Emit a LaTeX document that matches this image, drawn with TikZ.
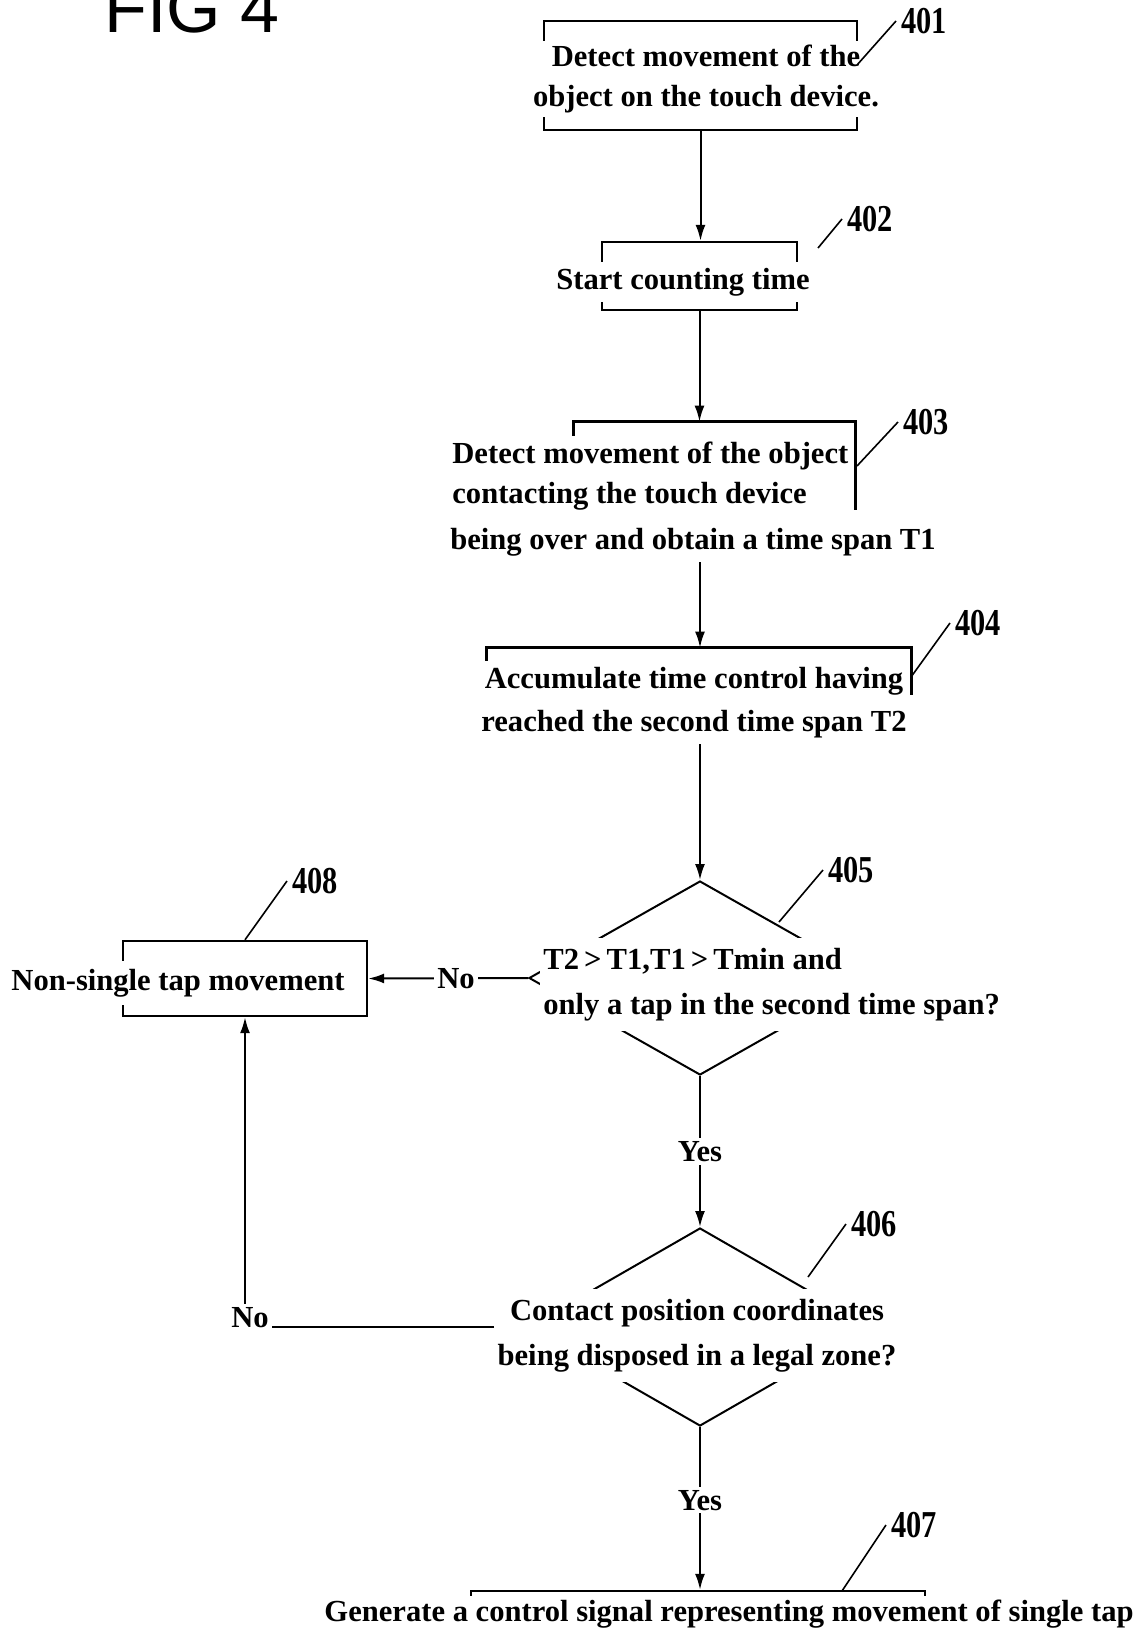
\documentclass[tikz,border=0pt]{standalone}
\usepackage{fontspec}
\setmainfont{Liberation Serif}
\newfontfamily\figfont{Liberation Sans}
\newfontfamily\numfont{Liberation Serif}[FakeStretch=0.8]
\usetikzlibrary{shapes.geometric,arrows.meta}

\begin{document}
\begin{tikzpicture}[x=0.5pt, y=-0.5pt, >={Latex[length=8pt,width=5pt]},
  box/.style={draw, line width=1.2pt, inner sep=0pt},
  openbox/.style={inner sep=0pt},
  decision/.style={draw, diamond, line width=1pt, inner sep=0pt},
  txt/.style={fill=white, inner xsep=1.5pt, inner ysep=3pt, font=\bfseries\fontsize{15.3}{20}\selectfont},
  num/.style={anchor=west, inner xsep=2.5pt, inner ysep=1pt, font=\numfont\bfseries\fontsize{19}{19}\selectfont},
  lead/.style={line width=0.8pt},
  flow/.style={->, line width=1pt},
  lbl/.style={fill=white, inner sep=1.5pt, font=\bfseries\fontsize{15.3}{18}\selectfont}]
\useasboundingbox (0,0) rectangle (1139,1634);
\coordinate (axis) at (700,0);
\node[anchor=base west, inner sep=0pt, font=\figfont\fontsize{35}{35}\selectfont] (fig) at (104,32) {FIG 4};
% outlines
\node[box, minimum width=156.5pt, minimum height=54.5pt] (b401) at (700.5,75.5) {};
\node[box, minimum width=97.5pt, minimum height=34pt] (b402) at (699.5,276) {};
\node[openbox, minimum width=140.5pt, minimum height=44pt] (b403) at (714.5,466) {};
\draw[line width=1.2pt] (b403.south west) |- (b403.north east) -- (b403.south east);
\node[openbox, minimum width=212pt, minimum height=23.5pt] (b404) at (699,671.5) {};
\draw[line width=1.2pt] (b404.south west) |- (b404.north east) -- (b404.south east);
\node[decision, minimum width=171pt, minimum height=97pt] (d405) at (700,978) {};
\node[decision, minimum width=172pt, minimum height=99pt] (d406) at (700,1327) {};
\node[box, minimum width=227pt, minimum height=17pt] (b407) at (698,1608) {};
\node[box, minimum width=122pt, minimum height=37.5pt] (b408) at (245,978.5) {};
% texts
\node[txt, align=center, inner ysep=2pt] (t401) at (706,79) {Detect movement of the\\object on the touch device.};
\node[txt] (t402) at (683,282) {Start counting time};
\node[txt, align=left, anchor=west] (t403a) at (449,476) {Detect movement of the object\\contacting the touch device};
\node[txt] (t403b) at (693,542) {being over and obtain a time span T1};
\node[txt, align=center] (t404) at (694,702.5) {Accumulate time control having\\[1.5pt]reached the second time span T2};
\node[txt, align=left, anchor=west, inner ysep=5pt] (t405) at (540,984.5) {T2\,>\,T1,T1\,>\,Tmin and\\[2.5pt]only a tap in the second time span?};
\node[txt, align=center, inner ysep=5pt] (t406) at (697,1335.5) {Contact position coordinates\\[2.5pt]being disposed in a legal zone?};
\node[txt, inner ysep=2pt] (t407) at (729,1614) {Generate a control signal representing movement of single tap};
\node[txt, inner ysep=4pt] (t408) at (178,983) {Non-single tap movement};
\node[lbl, anchor=base] (no406) at (250,1327) {No};
% connectors
\draw[flow] (b401.south) -- (b401.south |- b402.north);
\draw[flow] (b402.south) -- (b402.south |- b403.north);
\draw[flow] (t403b.south -| axis) -- (b404.north -| axis);
\draw[flow] (t404.south -| axis) -- (d405.north);
\draw[flow] (d405.south) -- node[lbl] (yes405) {Yes} (d406.north);
\draw[flow] (d406.south) -- node[lbl, pos=0.45] (yes406) {Yes} (d406.south |- b407.north);
\draw[flow] (d405.west) -- node[lbl, pos=0.45] (no405) {No} (b408.east);
\draw[line width=1pt] (d406.west -| t406.west) -- (no406.base east);
\draw[flow] (no406.north -| b408.south) -- (b408.south);
% reference numerals
\coordinate (c401) at (857,65);
\coordinate (c402) at (818,248);
\coordinate (c403) at (857,466);
\coordinate (c404) at (911,677);
\coordinate (c405) at (779,922);
\coordinate (c406) at (808,1277);
\coordinate (c407) at (842,1591);
\node[num] (n401) at (896,21) {401};
\node[num] (n402) at (842,219) {402};
\node[num] (n403) at (898,422) {403};
\node[num] (n404) at (950,623) {404};
\node[num] (n405) at (823,870) {405};
\node[num] (n406) at (846,1224) {406};
\node[num] (n407) at (886,1525) {407};
\node[num] (n408) at (287,881) {408};
\draw[lead] (n401.west) -- (c401);
\draw[lead] (n402.west) -- (c402);
\draw[lead] (n403.west) -- (c403);
\draw[lead] (n404.west) -- (c404);
\draw[lead] (n405.west) -- (c405);
\draw[lead] (n406.west) -- (c406);
\draw[lead] (n407.west) -- (c407);
\draw[lead] (n408.west) -- (b408.north);
\end{tikzpicture}
\end{document}
